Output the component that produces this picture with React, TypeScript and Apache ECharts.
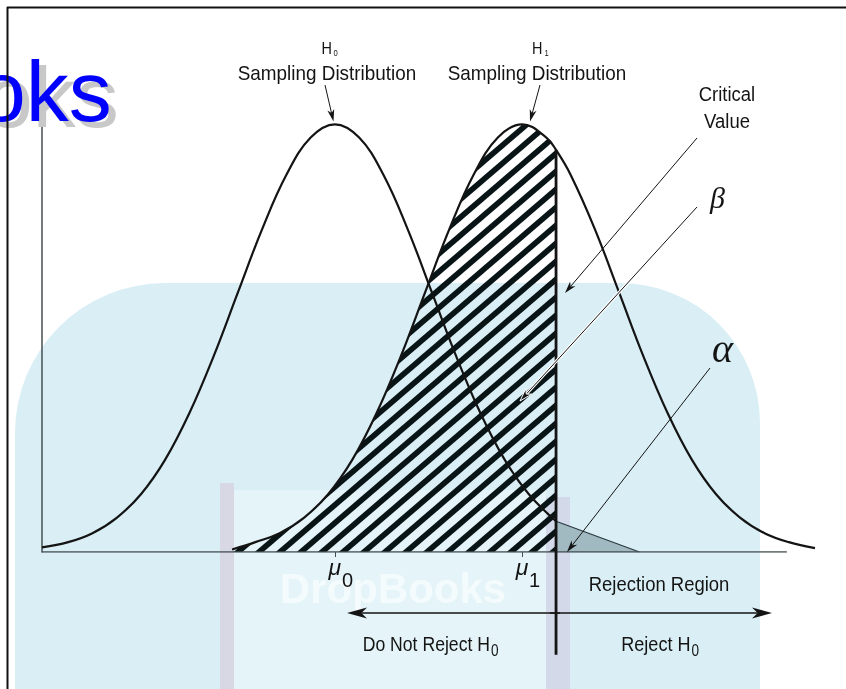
import React, { useEffect, useRef } from "react";
import * as echarts from "echarts";

// x is measured in standard errors of the H0 sampling distribution (mu0 = 0);
// y is the density relative to the peak height.
const X_MIN = -3.02;
const X_MAX = 4.95;
const AXIS_END = 4.66;
const MU0 = 0;
const MU1 = 1.93;
const CRITICAL = 2.28;
const ALPHA_END = 3.14;
const LINE_BOTTOM = -0.24;

const muTickValues = [MU0, MU1];
const muSubscripts = ["0", "1"];

const h0X = [-3.02, -2.75, -2.5, -2.25, -2.0, -1.75, -1.5, -1.25, -1.0, -0.75, -0.5, -0.25, 0, 0.25, 0.5, 0.75, 1.0, 1.25, 1.5, 1.75, 2.0, 2.28];
const h0Y = [0.011, 0.023, 0.044, 0.08, 0.135, 0.216, 0.325, 0.458, 0.607, 0.755, 0.882, 0.969, 1.0, 0.969, 0.882, 0.755, 0.607, 0.458, 0.325, 0.216, 0.135, 0.072];

const h1X = [-1.06, -0.82, -0.57, -0.32, -0.07, 0.18, 0.43, 0.68, 0.93, 1.18, 1.43, 1.68, 1.93, 2.18, 2.28, 2.43, 2.68, 2.93, 3.18, 3.43, 3.68, 3.93, 4.18, 4.43, 4.68, 4.95];
const h1Y = [0.006, 0.023, 0.044, 0.08, 0.135, 0.216, 0.325, 0.458, 0.607, 0.755, 0.882, 0.969, 1.0, 0.969, 0.94, 0.882, 0.755, 0.607, 0.458, 0.325, 0.216, 0.135, 0.08, 0.044, 0.023, 0.009];

const FONT = "'Liberation Sans', Arial, sans-serif";
const SERIF = "'Liberation Serif', 'Times New Roman', serif";
const INK = "#141414";
const AXIS_GRAY = "#454f52";

function makeHatch() {
  const w = 21;
  const h = 18;
  const c = document.createElement("canvas");
  c.width = w;
  c.height = h;
  const ctx = c.getContext("2d")!;
  ctx.strokeStyle = "#081416";
  ctx.lineWidth = 5.6;
  ctx.lineCap = "butt";
  for (const k of [-1, 0, 1]) {
    ctx.beginPath();
    ctx.moveTo(k * w - w, 2 * h);
    ctx.lineTo(k * w + 2 * w, -h);
    ctx.stroke();
  }
  return { image: c, repeat: "repeat", imageWidth: w, imageHeight: h };
}

function arrowEls(x1: number, y1: number, x2: number, y2: number, len = 12, half = 3.5, lw = 1, outline = false) {
  const dx = x2 - x1;
  const dy = y2 - y1;
  const L = Math.hypot(dx, dy);
  const ux = dx / L;
  const uy = dy / L;
  const nx = -uy;
  const ny = ux;
  const bx = x2 - ux * len;
  const by = y2 - uy * len;
  const cx = x2 - ux * len * 0.72;
  const cy = y2 - uy * len * 0.72;
  const els: any[] = [];
  if (outline) {
    els.push({ type: "line", z: 20, silent: true, shape: { x1, y1, x2: cx, y2: cy }, style: { stroke: "#ffffff", lineWidth: lw + 2 } });
  }
  els.push({ type: "line", z: 20, silent: true, shape: { x1, y1, x2: cx, y2: cy }, style: { stroke: INK, lineWidth: lw } });
  els.push({
    type: "polygon",
    z: 20,
    silent: true,
    shape: { points: [[x2, y2], [bx + nx * half, by + ny * half], [cx, cy], [bx - nx * half, by - ny * half]] },
    style: { fill: INK, stroke: outline ? "#ffffff" : null, lineWidth: outline ? 1 : 0 },
  });
  return els;
}

function label(text: string, x: number, y: number, size: number, opts: any = {}) {
  return {
    type: "text",
    x,
    y,
    z: 20,
    silent: true,
    scaleX: opts.scaleX ?? 0.88,
    rotation: opts.rotation ?? 0,
    style: {
      text,
      x: 0,
      y: 0,
      fill: opts.fill ?? INK,
      fontSize: size,
      fontFamily: opts.family ?? FONT,
      fontStyle: opts.fontStyle ?? "normal",
      fontWeight: opts.fontWeight ?? "normal",
      align: opts.align ?? "center",
      verticalAlign: "middle",
      opacity: opts.opacity ?? 1,
    },
  };
}

export default function App() {
  const ref = useRef<HTMLDivElement>(null);

  useEffect(() => {
    const chart = echarts.init(ref.current!, null, { renderer: "svg" });
    const h0 = h0X.map((x, i) => [x, h0Y[i]]);
    const h1 = h1X.map((x, i) => [x, h1Y[i]]);
    const critIdx = h1X.indexOf(CRITICAL);
    const beta = h1.slice(0, critIdx + 1);
    const h0AtCrit = h0Y[h0Y.length - 1];

    const background: any[] = [
      { type: "rect", z: -10, silent: true, shape: { x: 15, y: 283, width: 745, height: 460, r: [150, 140, 0, 0] }, style: { fill: "#d9eff5" } },
      { type: "rect", z: -9, silent: true, shape: { x: 220, y: 483, width: 14, height: 210 }, style: { fill: "rgba(214,172,198,0.35)" } },
      { type: "rect", z: -9, silent: true, shape: { x: 234, y: 490, width: 312, height: 200 }, style: { fill: "rgba(255,255,255,0.3)" } },
      { type: "rect", z: -9, silent: true, shape: { x: 546, y: 497, width: 24, height: 195 }, style: { fill: "rgba(206,186,216,0.4)" } },
      { ...label("DropBooks", 393, 588, 42, { scaleX: 1, fontWeight: "bold", fill: "#ffffff", opacity: 0.6 }), z: -8 },
    ];

    const decorations: any[] = [
      { ...label("oks", -15, 97.2, 86, { scaleX: 1, align: "left", fill: "#c8c8c8" }), z: 19 },
      { ...label("oks", -22, 91.2, 86, { scaleX: 1, align: "left", fill: "#0000ff" }), z: 19 },
      { type: "line", z: 21, silent: true, shape: { x1: 7, y1: 7.5, x2: 846, y2: 7.5 }, style: { stroke: "#111", lineWidth: 2 } },
      { type: "line", z: 21, silent: true, shape: { x1: 7.5, y1: 7, x2: 7.5, y2: 689 }, style: { stroke: "#111", lineWidth: 2 } },
    ];

    const annotations: any[] = [
      label("H", 321.5, 48.5, 17, { align: "left", scaleX: 0.85 }),
      label("0", 333.5, 52.5, 9, { align: "left", scaleX: 0.85 }),
      label("Sampling Distribution", 327, 72.5, 21, { scaleX: 0.9 }),
      label("H", 532, 48.5, 17, { align: "left", scaleX: 0.85 }),
      label("1", 544.5, 52.5, 9, { align: "left", scaleX: 0.85 }),
      label("Sampling Distribution", 537, 72.5, 21, { scaleX: 0.9 }),
      label("Critical", 727, 94, 21),
      label("Value", 727, 121, 21),
      label("β", 717.5, 197.6, 30, { scaleX: 1, family: SERIF, fontStyle: "italic" }),
      label("α", 722.5, 348.5, 40, { scaleX: 1, family: SERIF, fontStyle: "italic" }),
      label("Rejection Region", 659, 583.5, 21, { scaleX: 0.88 }),
      label("Do Not Reject H", 490, 643.5, 21, { align: "right", scaleX: 0.84 }),
      label("0", 491, 650, 17, { align: "left", scaleX: 0.8 }),
      label("Reject H", 690.5, 643.5, 21, { align: "right", scaleX: 0.86 }),
      label("0", 691.5, 650, 17, { align: "left", scaleX: 0.8 }),
      ...arrowEls(325, 85, 333.5, 121.5),
      ...arrowEls(540, 85, 530, 121.5),
      ...arrowEls(697, 138, 565, 293),
      ...arrowEls(697, 207, 520, 401, 13, 4, 1, true),
      ...arrowEls(710, 368, 567, 552),
      ...arrowEls(560, 613, 347, 613, 20, 5.5, 1.6),
      ...arrowEls(550, 613, 772, 613, 20, 5.5, 1.6),
    ];

    chart.setOption({
      animation: false,
      grid: { left: 42, right: 31, top: 120, bottom: 137, containLabel: false },
      xAxis: [
        {
          type: "value",
          min: X_MIN,
          max: X_MAX,
          position: "bottom",
          axisLine: { show: false, onZero: false },
          splitLine: { show: false },
          axisTick: { show: true, customValues: muTickValues, length: 5, lineStyle: { color: AXIS_GRAY, width: 1 } },
          axisLabel: {
            show: true,
            customValues: muTickValues,
            formatter: () => "μ",
            fontStyle: "italic",
            fontFamily: FONT,
            fontSize: 23,
            color: INK,
            margin: 3,
          },
        },
        {
          type: "value",
          min: X_MIN,
          max: X_MAX,
          position: "bottom",
          axisLine: { show: false, onZero: false },
          splitLine: { show: false },
          axisTick: { show: false },
          axisLabel: {
            show: true,
            customValues: muTickValues,
            formatter: (v: number) => {
              let best = 0;
              muTickValues.forEach((m, i) => {
                if (Math.abs(m - v) < Math.abs(muTickValues[best] - v)) best = i;
              });
              return muSubscripts[best];
            },
            fontFamily: FONT,
            fontSize: 20,
            color: INK,
            align: "left",
            padding: [0, 0, 0, 7],
            margin: 18,
          },
        },
      ],
      yAxis: {
        type: "value",
        min: 0,
        max: 1.01,
        axisLine: { show: true, onZero: false, lineStyle: { color: AXIS_GRAY, width: 1.5 } },
        axisTick: { show: false },
        axisLabel: { show: false },
        splitLine: { show: false },
      },
      series: [
        {
          name: "beta",
          type: "line",
          data: beta,
          smooth: 0.4,
          showSymbol: false,
          silent: true,
          lineStyle: { width: 0 },
          areaStyle: { color: makeHatch(), opacity: 1 },
          z: 2,
        },
        {
          name: "alpha",
          type: "line",
          data: [[CRITICAL, h0AtCrit], [ALPHA_END, 0]],
          showSymbol: false,
          silent: true,
          lineStyle: { color: "#2c3a3e", width: 1.2 },
          areaStyle: { color: "#a1bac2", opacity: 1 },
          z: 2,
        },
        {
          name: "H0",
          type: "line",
          data: h0,
          smooth: 0.4,
          showSymbol: false,
          silent: true,
          lineStyle: { color: INK, width: 2.2 },
          z: 3,
        },
        {
          name: "H1",
          type: "line",
          data: h1,
          smooth: 0.4,
          showSymbol: false,
          silent: true,
          lineStyle: { color: INK, width: 2.2 },
          z: 3,
        },
        {
          name: "baseline",
          type: "line",
          data: [[X_MIN, 0], [AXIS_END, 0]],
          showSymbol: false,
          silent: true,
          lineStyle: { color: AXIS_GRAY, width: 1.5 },
          z: 3,
        },
        {
          name: "critical",
          type: "line",
          data: [[CRITICAL, h1Y[critIdx]], [CRITICAL, LINE_BOTTOM]],
          showSymbol: false,
          silent: true,
          clip: false,
          lineStyle: { color: INK, width: 2.8 },
          z: 4,
        },
      ],
      graphic: { elements: [...background, ...decorations, ...annotations] },
    });

    return () => chart.dispose();
  }, []);

  return <div ref={ref} style={{ position: "fixed", left: 0, top: 0, width: 846, height: 689 }} />;
}
